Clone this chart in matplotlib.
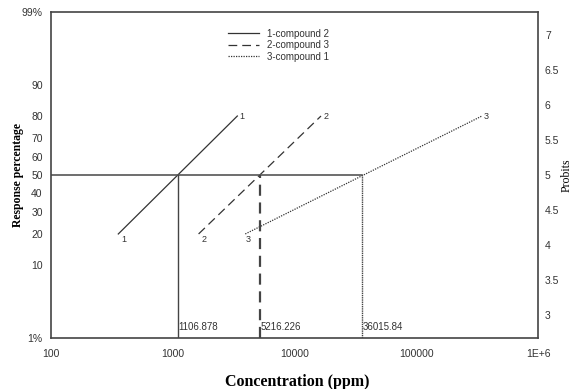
import numpy as np
import matplotlib
matplotlib.use("Agg")
import matplotlib.pyplot as plt
from statistics import NormalDist

# probit = 5 + inverse normal of the response fraction
def probit(pct):
    return 5 + NormalDist().inv_cdf(pct / 100.0)

# regression lines: concentration (ppm) at low and high end, response %
labels = ["1", "2", "3"]
legend_names = ["1-compound 2", "2-compound 3", "3-compound 1"]
conc_low = [357, 1630, 3940]
conc_high = [3390, 16500, 346000]
resp_low = [20, 20, 20]
resp_high = [80, 80, 80]
lc50 = [1106.878, 5216.226, 36015.84]
lc50_labels = ["1106.878", "5216.226", "36015.84"]
styles = ["-", (0, (7, 4)), (0, (1, 1))]

pct_ticks = [1, 10, 20, 30, 40, 50, 60, 70, 80, 90, 99]
pct_labels = ["1%", "10", "20", "30", "40", "50", "60", "70", "80", "90", "99%"]
probit_ticks = [3, 3.5, 4, 4.5, 5, 5.5, 6, 6.5, 7]
x_ticks = [100, 1000, 10000, 100000, 1000000]
x_labels = ["100", "1000", "10000", "100000", "1E+6"]

col = "#333333"
fig = plt.figure(figsize=(5.75, 3.89), dpi=100)
ax = fig.add_axes([0.0887, 0.1311, 0.8470, 0.8381])

label_shift = [1.05, 1.05, 1.0]
for i in range(3):
    y0, y1 = probit(resp_low[i]), probit(resp_high[i])
    ax.plot([conc_low[i], conc_high[i]], [y0, y1], color=col, lw=0.9,
            linestyle=styles[i], label=legend_names[i])
    ax.text(conc_low[i] * label_shift[i], y0 - 0.02, labels[i], fontsize=6.5,
            color=col, ha="left", va="top", family="Liberation Sans")
    ax.text(conc_high[i] * 1.04, y1, labels[i], fontsize=6.5,
            color=col, ha="left", va="center", family="Liberation Sans")

y50 = probit(50)
ymin, ymax = probit(1), probit(99)
ax.plot([100, lc50[2]], [y50, y50], color="#555555", lw=1.2)
vstyles = ["-", (0, (5, 3)), (0, (1, 0.6))]
vwidth = [1.0, 1.6, 1.0]
for i in range(3):
    ax.plot([lc50[i], lc50[i]], [ymin, y50], color="#444444",
            lw=vwidth[i], linestyle=vstyles[i])
    ax.text(lc50[i] * 1.01, ymin + 0.08, lc50_labels[i], fontsize=7,
            color=col, ha="left", va="bottom", family="Liberation Sans")

ax.set_xscale("log")
ax.set_xlim(100, 1000000)
ax.set_ylim(ymin, ymax)
ax.set_xticks(x_ticks)
ax.set_xticklabels(x_labels)
ax.xaxis.set_minor_locator(matplotlib.ticker.NullLocator())
ax.set_yticks([probit(p) for p in pct_ticks])
ax.set_yticklabels(pct_labels)
ax.tick_params(length=0, labelsize=7.5, colors=col, pad=6)
ax.tick_params(axis="x", pad=8)
for lbl in ax.get_xticklabels() + ax.get_yticklabels():
    lbl.set_family("Liberation Sans")
for s in ax.spines.values():
    s.set_color("#444444")
    s.set_linewidth(1.2)

ax2 = ax.twinx()
ax2.set_ylim(ymin, ymax)
ax2.set_yticks(probit_ticks)
ax2.set_yticklabels([f"{t:g}" for t in probit_ticks])
ax2.tick_params(length=0, labelsize=7.5, colors=col, pad=5)
for lbl in ax2.get_yticklabels():
    lbl.set_family("Liberation Sans")
for s in ax2.spines.values():
    s.set_visible(False)

leg = ax.legend(loc="upper left", bbox_to_anchor=(0.345, 0.975), frameon=False,
                handlelength=3.2, labelspacing=0.15,
                prop={"family": "Liberation Sans", "size": 7})
for t in leg.get_texts():
    t.set_color(col)

fig.text(0.032, 0.55, "Response percentage", rotation=90, ha="center",
         va="center", family="Liberation Serif", weight="bold", fontsize=8.5)
fig.text(0.985, 0.55, "Probits", rotation=90, ha="center", va="center",
         family="Liberation Serif", fontsize=8.5)
fig.text(0.517, 0.017, "Concentration (ppm)", ha="center", va="center",
         family="Liberation Serif", weight="bold", fontsize=11.5)

fig.savefig("out.png", dpi=100)
